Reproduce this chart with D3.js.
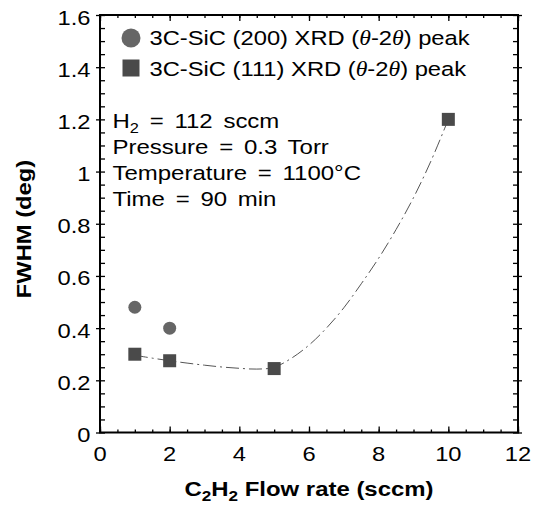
<!DOCTYPE html>
<html lang="en">
<head>
<meta charset="utf-8">
<title>FWHM vs C2H2 flow rate</title>
<script src="https://cdnjs.cloudflare.com/ajax/libs/d3/7.8.5/d3.min.js"></script>
<style>
body { margin: 0; background: #fff; }
svg text { font-family: "Liberation Sans", Arial, sans-serif; fill: #000; }
</style>
</head>
<body>
<div id="viz"></div>
<script>
// values
const flow200 = [1, 2];
const fwhm200 = [0.48, 0.40];
const flow111 = [1, 2, 5, 10];
const fwhm111 = [0.30, 0.275, 0.245, 1.20];
// dash-dot trend line
const fitFlow = [1, 1.5, 2, 2.5, 3, 3.5, 4, 4.5, 5, 5.5, 6, 6.5, 7, 7.5, 8, 8.5, 9, 9.5, 10];
const fitFwhm = [0.296, 0.285, 0.275, 0.266, 0.258, 0.251, 0.246, 0.243, 0.250, 0.285, 0.335, 0.400, 0.478, 0.570, 0.668, 0.778, 0.900, 1.040, 1.200];
const xTicks = [0, 2, 4, 6, 8, 10, 12];
const yTicks = [0, 0.2, 0.4, 0.6, 0.8, 1, 1.2, 1.4, 1.6];
const legendNames = ["3C-SiC (200) XRD", "3C-SiC (111) XRD"];
const conditions = ["= 112 sccm", "Pressure = 0.3 Torr", "Temperature = 1100\u00b0C", "Time = 90 min"];

const width = 533, height = 507;
const plotLeft = 100, plotRight = 518, plotTop = 15, plotBottom = 432.5;
const stretch = 1.17; // the original font runs wide

const x = d3.scaleLinear().domain([0, 12]).range([plotLeft, plotRight]);
const y = d3.scaleLinear().domain([0, 1.6]).range([plotBottom, plotTop]);

const svg = d3.select("#viz").append("svg")
  .attr("width", width)
  .attr("height", height);

// ticks, all pointing inward (major y ticks also poke out)
function ticks(axis, tx, ty, vals, size) {
  const g = svg.append("g")
    .attr("transform", `translate(${tx},${ty})`)
    .call(axis.tickValues(vals).tickSize(size).tickFormat(""));
  g.select(".domain").remove();
  g.selectAll("line").attr("stroke", "#000").attr("stroke-width", 1.3);
  return g;
}
ticks(d3.axisBottom(x), 0, plotBottom, x.ticks(24), -3);
ticks(d3.axisBottom(x), 0, plotBottom, xTicks, -6);
ticks(d3.axisTop(x), 0, plotTop, x.ticks(24), -3);
ticks(d3.axisTop(x), 0, plotTop, xTicks, -6);
ticks(d3.axisLeft(y), plotLeft, 0, y.ticks(32), -5);
ticks(d3.axisLeft(y), plotLeft, 0, yTicks, 4);
ticks(d3.axisRight(y), plotRight, 0, y.ticks(32), -5);
ticks(d3.axisRight(y), plotRight, 0, yTicks, 4);

// tick labels
const fmt = d3.format("~g");
svg.append("g").selectAll("text")
  .data(xTicks)
  .enter()
  .append("text")
    .attr("transform", d => `translate(${x(d)},${plotBottom + 28.5}) scale(1.13,1)`)
    .attr("text-anchor", "middle")
    .attr("font-size", 21)
    .text(fmt);
svg.append("g").selectAll("text")
  .data(yTicks)
  .enter()
  .append("text")
    .attr("transform", d => `translate(${plotLeft - 9.5},${y(d) + 9.5}) scale(1.13,1)`)
    .attr("text-anchor", "end")
    .attr("font-size", 21)
    .text(fmt);

// frame
svg.append("rect")
  .attr("x", plotLeft).attr("y", plotTop)
  .attr("width", plotRight - plotLeft).attr("height", plotBottom - plotTop)
  .attr("fill", "none").attr("stroke", "#000").attr("stroke-width", 2);

// axis titles
const xt = svg.append("text")
  .attr("transform", `translate(${(plotLeft + plotRight) / 2},496) scale(1.14,1)`)
  .attr("text-anchor", "middle")
  .attr("font-size", 21)
  .attr("font-weight", "bold");
xt.append("tspan").text("C");
xt.append("tspan").attr("font-size", 15).attr("dy", 5).text("2");
xt.append("tspan").attr("dy", -5).text("H");
xt.append("tspan").attr("font-size", 15).attr("dy", 5).text("2");
xt.append("tspan").attr("dy", -5).text(" Flow rate (sccm)");

svg.append("text")
  .attr("transform", `translate(31,229) rotate(-90) scale(1.13,1)`)
  .attr("text-anchor", "middle")
  .attr("font-size", 21)
  .attr("font-weight", "bold")
  .text("FWHM (deg)");

// fitted curve
const line = d3.line()
  .x(d => x(d[0]))
  .y(d => y(d[1]))
  .curve(d3.curveCatmullRom);
svg.append("path")
  .datum(d3.zip(fitFlow, fitFwhm))
  .attr("d", line)
  .attr("fill", "none")
  .attr("stroke", "#555")
  .attr("stroke-width", 1)
  .attr("stroke-dasharray", "13,4,2,4");

// markers
svg.append("g").selectAll("circle")
  .data(d3.zip(flow200, fwhm200))
  .enter()
  .append("circle")
    .attr("cx", d => x(d[0]))
    .attr("cy", d => y(d[1]))
    .attr("r", 6.5)
    .attr("fill", "#666");
const sq = 13;
svg.append("g").selectAll("rect")
  .data(d3.zip(flow111, fwhm111))
  .enter()
  .append("rect")
    .attr("x", d => x(d[0]) - sq / 2)
    .attr("y", d => y(d[1]) - sq / 2)
    .attr("width", sq)
    .attr("height", sq)
    .attr("fill", "#4a4a4a");

// legend
svg.append("circle").attr("cx", 131).attr("cy", 38).attr("r", 9.5).attr("fill", "#666");
svg.append("rect").attr("x", 122.5).attr("y", 59.5).attr("width", 17).attr("height", 17).attr("fill", "#4a4a4a");
legendNames.forEach(function(name, i) {
  const t = svg.append("text")
    .attr("transform", `translate(149.5,${45 + i * 31}) scale(${stretch},1)`)
    .attr("font-size", 20.3);
  t.append("tspan").text(name + " (");
  t.append("tspan").attr("font-family", "Liberation Serif, serif").attr("font-style", "italic").text("\u03b8");
  t.append("tspan").text("-2");
  t.append("tspan").attr("font-family", "Liberation Serif, serif").attr("font-style", "italic").text("\u03b8");
  t.append("tspan").text(") peak");
});

// growth conditions
conditions.forEach(function(c, i) {
  const t = svg.append("text")
    .attr("transform", `translate(112.5,${128 + i * 26}) scale(${stretch},1)`)
    .attr("font-size", 20.5)
    .attr("word-spacing", 3.5);
  if (i === 0) {
    t.append("tspan").text("H");
    t.append("tspan").attr("font-size", 14).attr("dy", 5).text("2");
    t.append("tspan").attr("dy", -5).text(" " + c);
  } else {
    t.text(c);
  }
});
</script>
</body>
</html>
